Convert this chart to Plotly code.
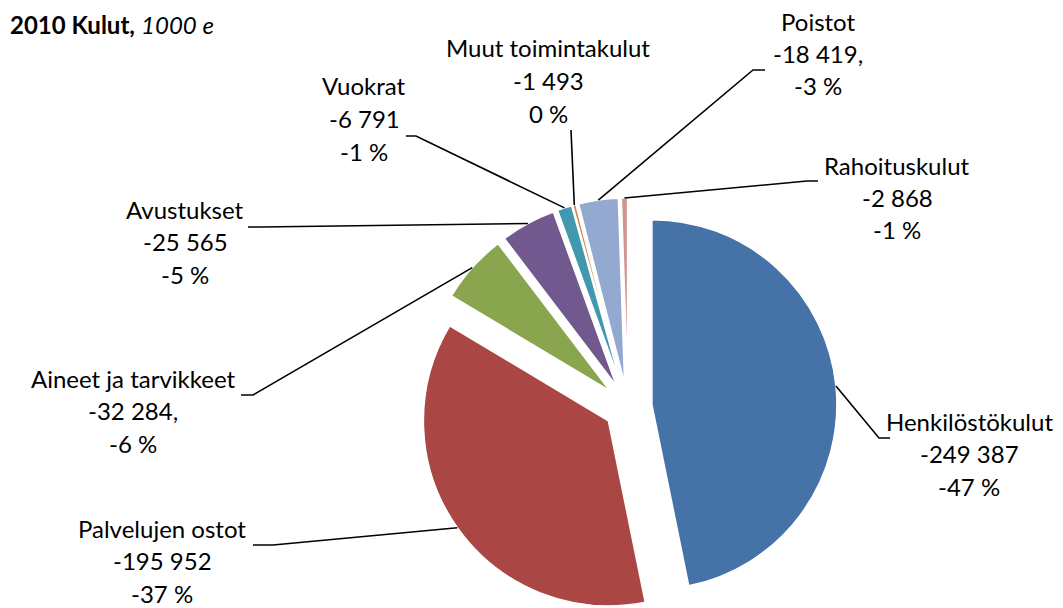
import math
import plotly.graph_objects as go

# ---- data ----
categories = ["Henkilöstökulut", "Palvelujen ostot", "Aineet ja tarvikkeet", "Avustukset",
              "Vuokrat", "Muut toimintakulut", "Poistot", "Rahoituskulut"]
values = [249387, 195952, 32284, 25565, 6791, 1493, 18419, 2868]   # costs, 1000 e (shown negative)
value_suffix = ["", "", ",", "", "", "", ",", ""]
colors = ["#4572A7", "#AA4643", "#89A54E", "#71588F", "#4198AF", "#DB843D", "#93A9CF", "#D19392"]

# ---- layout constants (pixels) ----
W, H = 1063, 608
FONT = "Lato, Calibri, Carlito, sans-serif"
FS = 24
LINE_GAP = 32.5
TEXT_DY = -10
CX, CY = 620, 399          # pie centre
DOM_HALF = 209             # half size of pie domain in px
PULL = 0.13
R = DOM_HALF / (1 + PULL)  # radius plotly will use

# label text centres (x, first-line y) and leader-line start/elbow (px)
label_pos = [(961, 423), (154, 530), (125, 380), (177, 211),
             (356, 88), (540, 50), (810, 23), (889, 167)]
leader_start = [(882, 430), (245, 537), (233, 387), (240, 219),
                (398, 128), (563, 122), (757, 62), (810, 173)]
leader_elbow = [(871, 430), (265, 537), (245, 387), (252, 219),
                (408, 128), (563, 122), (745, 62), (799, 173)]


def px(x):
    return x / W


def py(y):
    return 1 - y / H


def fmt_num(v):
    s = f"{v:,}".replace(",", " ")
    return "-" + s


total = sum(values)

fig = go.Figure(go.Pie(
    labels=categories,
    values=values,
    sort=False,
    direction="clockwise",
    rotation=0,
    pull=[PULL] * len(values),
    marker=dict(colors=colors, line=dict(color="white", width=1.5)),
    textinfo="none",
    hoverinfo="label+value+percent",
    showlegend=False,
    domain=dict(x=[px(CX - DOM_HALF - 4), px(CX + DOM_HALF + 4)],
                y=[py(CY + DOM_HALF), py(CY - DOM_HALF)]),
))

annotations = []
shapes = []
cum = 0.0
for i, (name, v) in enumerate(zip(categories, values)):
    frac = v / total
    mid = (cum + frac / 2) * 2 * math.pi
    cum += frac
    ax = CX + R * (1 + PULL) * math.sin(mid)
    ay = CY - R * (1 + PULL) * math.cos(mid)
    pct = round(frac * 100)
    pct_txt = f"-{pct} %" if pct != 0 else "0 %"
    lines = [name, fmt_num(v) + value_suffix[i], pct_txt]
    lx, ly = label_pos[i]
    for k, t in enumerate(lines):
        annotations.append(dict(
            x=px(lx), y=py(ly + k * LINE_GAP + TEXT_DY), xref="paper", yref="paper",
            text=t, showarrow=False, xanchor="center", yanchor="middle",
            font=dict(family=FONT, size=FS, color="black")))
    sx, sy = leader_start[i]
    ex, ey = leader_elbow[i]
    path = f"M {px(sx)} {py(sy)} L {px(ex)} {py(ey)} L {px(ax)} {py(ay)}"
    shapes.append(dict(type="path", path=path, xref="paper", yref="paper",
                       line=dict(color="black", width=1.6)))

annotations.append(dict(
    x=0, y=1, xref="paper", yref="paper", xanchor="left", yanchor="top",
    text="<b>2010 Kulut,</b> <i>1000 e</i>", showarrow=False,
    font=dict(family=FONT, size=FS, color="black")))

fig.update_layout(
    width=W, height=H,
    margin=dict(l=0, r=0, t=0, b=0),
    paper_bgcolor="white", plot_bgcolor="white",
    annotations=annotations, shapes=shapes,
)

fig.write_html("out.html")
